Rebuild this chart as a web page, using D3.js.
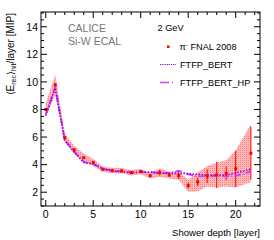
<!DOCTYPE html>
<html>
<head>
<meta charset="utf-8">
<script src="https://cdn.jsdelivr.net/npm/d3@7"></script>
<style>
  body { margin: 0; background: #fff; }
  text { font-family: "Liberation Sans", Arial, sans-serif; }
</style>
</head>
<body>
<div id="chart"></div>
<script>
// layer positions and measured values
const layers = [0, 1, 2, 3, 4, 5, 6, 7, 8, 9, 10, 11, 12, 13, 14, 15, 16, 17, 18, 19, 20, 21.6];
const dataE = [8.0, 9.78, 5.96, 5.07, 4.5, 4.15, 3.67, 3.57, 3.55, 3.42, 3.5, 3.2, 3.42, 3.25, 3.2, 2.48, 2.75, 3.16, 3.25, 3.37, 3.7, 4.83];
const sysErr = [0.45, 0.75, 0.3, 0.3, 0.3, 0.25, 0.2, 0.2, 0.2, 0.2, 0.2, 0.2, 0.3, 0.25, 0.3, 0.45, 0.7, 0.75, 0.9, 0.95, 1.35, 2.1];
const statErr = [0.1, 0.15, 0.08, 0.08, 0.08, 0.08, 0.08, 0.1, 0.1, 0.1, 0.1, 0.12, 0.2, 0.15, 0.25, 0.2, 0.3, 0.5, 0.95, 0.5, 1.3, 1.9];
const bert = [7.55, 9.55, 5.75, 4.9, 4.15, 4.05, 3.7, 3.55, 3.5, 3.4, 3.45, 3.45, 3.4, 3.35, 3.35, 3.35, 3.3, 3.25, 3.25, 3.25, 3.4, 3.67];
const bertHP = [7.65, 9.6, 5.8, 4.95, 4.2, 4.05, 3.7, 3.55, 3.5, 3.45, 3.45, 3.45, 3.4, 3.4, 3.55, 3.3, 3.15, 3.15, 3.2, 3.15, 3.2, 3.5];
const xTicks = [0, 5, 10, 15, 20];
const yTicks = [2, 4, 6, 8, 10, 12, 14];

const W = 274, H = 240;
const margin = {left: 41, right: 14, top: 12, bottom: 34};

const svg = d3.select("#chart").append("svg")
    .attr("width", W).attr("height", H);

const x = d3.scaleLinear().domain([-0.5, 22.56]).range([margin.left, W - margin.right]);
const y = d3.scaleLinear().domain([1, 15.07]).range([H - margin.bottom, margin.top]);

const pts = layers.map((l, i) => ({l, v: dataE[i], s: sysErr[i], st: statErr[i], b: bert[i], h: bertHP[i]}));

// hatched band
const defs = svg.append("defs");
const pat = defs.append("pattern").attr("id", "hatch")
    .attr("width", 2).attr("height", 2).attr("patternUnits", "userSpaceOnUse");
pat.append("rect").attr("width", 2).attr("height", 2).attr("fill", "#ffabab");
pat.append("rect").attr("width", 1).attr("height", 1).attr("fill", "#ff7070");

const band = d3.area()
    .x(d => x(d.l))
    .y0(d => y(d.v - d.s))
    .y1(d => y(d.v + d.s));

svg.append("path").datum(pts)
    .attr("d", band)
    .attr("fill", "url(#hatch)")
    .attr("opacity", 0.85);

// stat error bars
svg.append("g").selectAll("line").data(pts).join("line")
    .attr("x1", d => x(d.l)).attr("x2", d => x(d.l))
    .attr("y1", d => y(d.v - d.st)).attr("y2", d => y(d.v + d.st))
    .attr("stroke", "#ff0000").attr("stroke-width", 1);

// simulation lines
const lineB = d3.line().x(d => x(d.l)).y(d => y(d.b));
const lineH = d3.line().x(d => x(d.l)).y(d => y(d.h));

svg.append("path").datum(pts).attr("d", lineH)
    .attr("fill", "none").attr("stroke", "#d040ff").attr("stroke-width", 2)
    .attr("stroke-dasharray", "7,2,1,2");
svg.append("path").datum(pts).attr("d", lineB)
    .attr("fill", "none").attr("stroke", "#9000d0").attr("stroke-width", 1.5)
    .attr("stroke-dasharray", "1.5,1.5");

// data markers
svg.append("g").selectAll("rect").data(pts).join("rect")
    .attr("x", d => x(d.l) - 1.5).attr("y", d => y(d.v) - 1.5)
    .attr("width", 3).attr("height", 3).attr("fill", "#ff0000");

// frame
const x0 = margin.left, x1 = W - margin.right, y0 = margin.top, y1 = H - margin.bottom;
svg.append("rect").attr("x", x0).attr("y", y0).attr("width", x1 - x0).attr("height", y1 - y0)
    .attr("fill", "none").attr("stroke", "#000").attr("stroke-width", 1);

const ticks = svg.append("g").attr("stroke", "#000").attr("stroke-width", 1);
d3.range(0, 23, 1).forEach(t => {
  const len = t % 5 === 0 ? 6 : 3;
  ticks.append("line").attr("x1", x(t)).attr("x2", x(t)).attr("y1", y1).attr("y2", y1 - len);
  ticks.append("line").attr("x1", x(t)).attr("x2", x(t)).attr("y1", y0).attr("y2", y0 + len);
});
d3.range(1, 15.01, 0.5).forEach(t => {
  const len = Math.abs(t % 2) < 1e-6 ? 6 : 3;
  ticks.append("line").attr("x1", x0).attr("x2", x0 + len).attr("y1", y(t)).attr("y2", y(t));
  ticks.append("line").attr("x1", x1).attr("x2", x1 - len).attr("y1", y(t)).attr("y2", y(t));
});

svg.append("g").selectAll("text").data(xTicks).join("text")
    .attr("x", d => x(d)).attr("y", y1 + 11.5)
    .attr("text-anchor", "middle").attr("font-size", 10.5).text(d => d);
svg.append("g").selectAll("text").data(yTicks).join("text")
    .attr("x", x0 - 3).attr("y", d => y(d) + 3.8)
    .attr("text-anchor", "end").attr("font-size", 10.5).text(d => d);

// axis titles
svg.append("text").attr("x", x1).attr("y", 236)
    .attr("text-anchor", "end").attr("font-size", 9.6).text("Shower depth [layer]");

const yt = svg.append("text")
    .attr("transform", `translate(13.5,${y0 + 1}) rotate(-90)`)
    .attr("text-anchor", "end").attr("font-size", 10);
yt.append("tspan").text("\u27E8E");
yt.append("tspan").attr("font-size", 7).attr("dy", 2).text("rec");
yt.append("tspan").attr("dy", -2).text("\u27E9");
yt.append("tspan").attr("font-size", 7).attr("dy", 2).text("hit");
yt.append("tspan").attr("dy", -2).text("/layer [MIP]");

// labels
svg.append("text").attr("x", 68).attr("y", 32).attr("font-size", 10.5).attr("fill", "#777").text("CALICE");
svg.append("text").attr("x", 68).attr("y", 44.5).attr("font-size", 10.5).attr("fill", "#777").text("Si-W ECAL");

// legend
const lg = svg.append("g").attr("font-size", 9.2);
lg.append("text").attr("x", 157.5).attr("y", 31).text("2 GeV");
lg.append("rect").attr("x", 167).attr("y", 45.5).attr("width", 2.5).attr("height", 2.5).attr("fill", "#ff0000");
const t1 = lg.append("text").attr("x", 179.5).attr("y", 50);
t1.append("tspan").text("\u03C0");
t1.append("tspan").attr("font-size", 6).attr("dy", -3).text("-");
t1.append("tspan").attr("dy", 3).text(" FNAL 2008");
lg.append("line").attr("x1", 160).attr("x2", 176).attr("y1", 64.5).attr("y2", 64.5)
    .attr("stroke", "#9000d0").attr("stroke-width", 1.2).attr("stroke-dasharray", "1.2,1");
lg.append("text").attr("x", 180).attr("y", 68).text("FTFP_BERT");
lg.append("line").attr("x1", 160).attr("x2", 176).attr("y1", 82.5).attr("y2", 82.5)
    .attr("stroke", "#d040ff").attr("stroke-width", 1.6).attr("stroke-dasharray", "9,3,1,3");
lg.append("text").attr("x", 180).attr("y", 86).text("FTFP_BERT_HP");
</script>
</body>
</html>
